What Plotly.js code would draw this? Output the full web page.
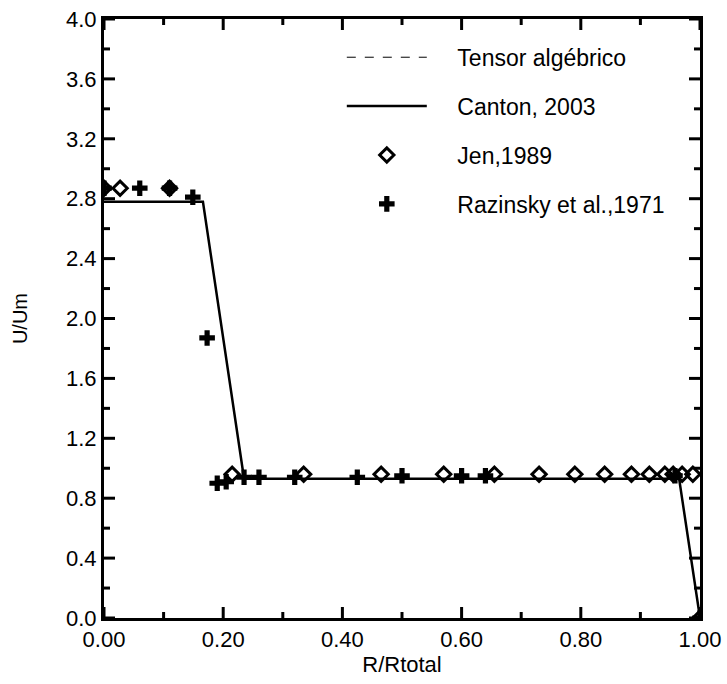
<!DOCTYPE html>
<html>
<head>
<meta charset="utf-8">
<script src="https://cdn.plot.ly/plotly-3.0.1.min.js"></script>
<style>html,body{margin:0;padding:0;background:#fff;}#chart{width:727px;height:684px;}</style>
</head>
<body>
<div id="chart"></div>
<script>
// Tensor algébrico (dashed) – coincides with Canton curve
const tensorX = [0.0, 0.166, 0.235, 0.965, 1.0];
const tensorY = [2.78, 2.78, 0.93, 0.93, 0.0];
// Canton, 2003 (solid)
const cantonX = [0.0, 0.166, 0.235, 0.965, 1.0];
const cantonY = [2.78, 2.78, 0.93, 0.93, 0.0];
// Jen, 1989 (open diamonds)
const jenX = [0.0, 0.027, 0.11, 0.215, 0.335, 0.465, 0.57, 0.655, 0.73, 0.79, 0.84, 0.885, 0.915, 0.941, 0.955, 0.97, 0.988, 1.0];
const jenY = [2.87, 2.87, 2.87, 0.96, 0.96, 0.96, 0.96, 0.96, 0.96, 0.96, 0.96, 0.96, 0.96, 0.96, 0.96, 0.96, 0.96, 0.0];
// Razinsky et al., 1971 (crosses)
const razX = [0.0, 0.06, 0.11, 0.149, 0.173, 0.19, 0.205, 0.235, 0.26, 0.32, 0.425, 0.5, 0.6, 0.64, 0.958, 1.0];
const razY = [2.87, 2.87, 2.87, 2.81, 1.87, 0.90, 0.91, 0.94, 0.94, 0.94, 0.94, 0.95, 0.95, 0.95, 0.95, 0.0];
// axes: major tick values and labels, minor tick values
const xTickVals = [0, 0.2, 0.4, 0.6, 0.8, 1.0];
const xTickText = ['0.00', '0.20', '0.40', '0.60', '0.80', '1.00'];
const xMinorVals = [0.1, 0.3, 0.5, 0.7, 0.9];
const yTickVals = [0, 0.4, 0.8, 1.2, 1.6, 2.0, 2.4, 2.8, 3.2, 3.6, 4.0];
const yTickText = ['0.0', '0.4', '0.8', '1.2', '1.6', '2.0', '2.4', '2.8', '3.2', '3.6', '4.0'];
const yMinorVals = [0.2, 0.6, 1.0, 1.4, 1.8, 2.2, 2.6, 3.0, 3.4, 3.8];
const xRange = [0, 1], yRange = [0, 4];

const FONT = 'Liberation Sans';
const PAD = '\u00a0\u00a0\u00a0\u00a0';
const W = 727, H = 684, M = {l: 104, r: 27, t: 19, b: 66};

const traces = [
  {x: tensorX, y: tensorY, mode: 'lines', name: PAD + 'Tensor algébrico',
   line: {color: 'black', width: 1, dash: 'dash'}, legendgroup: 'a'},
  {x: cantonX, y: cantonY, mode: 'lines', name: PAD + 'Canton, 2003',
   line: {color: 'black', width: 2.5}, legendgroup: 'b'},
  {x: jenX, y: jenY, mode: 'markers', name: PAD + 'Jen,1989',
   marker: {symbol: 'diamond-open', size: 11, color: 'black', line: {width: 3, color: 'black'}}, legendgroup: 'c'},
  {x: razX, y: razY, mode: 'markers', name: PAD + 'Razinsky et al.,1971',
   marker: {symbol: 'cross', size: 13, color: 'black'}, legendgroup: 'd'}
];

// inward tick marks on all four sides as data-referenced line shapes
const plotW = W - M.l - M.r, plotH = H - M.t - M.b;
const xPerPx = (xRange[1] - xRange[0]) / plotW, yPerPx = (yRange[1] - yRange[0]) / plotH;
const MAJ = 11, MIN = 6;
const shapes = [];
function xTick(v, len) {
  const d = len * yPerPx;
  shapes.push({type: 'line', xref: 'x', yref: 'y', x0: v, x1: v, y0: yRange[0], y1: yRange[0] + d,
               line: {color: 'black', width: 3}, layer: 'above'});
  shapes.push({type: 'line', xref: 'x', yref: 'y', x0: v, x1: v, y0: yRange[1], y1: yRange[1] - d,
               line: {color: 'black', width: 3}, layer: 'above'});
}
function yTick(v, len) {
  const d = len * xPerPx;
  shapes.push({type: 'line', xref: 'x', yref: 'y', x0: xRange[0], x1: xRange[0] + d, y0: v, y1: v,
               line: {color: 'black', width: 3}, layer: 'above'});
  shapes.push({type: 'line', xref: 'x', yref: 'y', x0: xRange[1], x1: xRange[1] - d, y0: v, y1: v,
               line: {color: 'black', width: 3}, layer: 'above'});
}
xTickVals.forEach(v => xTick(v, MAJ));
xMinorVals.forEach(v => xTick(v, MIN));
yTickVals.forEach(v => yTick(v, MAJ));
yMinorVals.forEach(v => yTick(v, MIN));

function axis(range, vals, text, title, titleSize, standoff) {
  return {
    range: range, tickmode: 'array', tickvals: vals, ticktext: text,
    ticks: '', tickfont: {family: FONT, size: 22, color: 'black'},
    showline: true, linecolor: 'black', linewidth: 3, mirror: true,
    showgrid: false, zeroline: false,
    title: {text: title, font: {family: FONT, size: titleSize, color: 'black'}, standoff: standoff}
  };
}

const layout = {
  width: W, height: H, margin: M,
  xaxis: axis(xRange, xTickVals, xTickText, 'R/Rtotal', 22, 2),
  yaxis: axis(yRange, yTickVals, yTickText, 'U/Um', 20, 34),
  shapes: shapes,
  legend: {
    x: 0.399, y: 0.972, xanchor: 'left', yanchor: 'top',
    bgcolor: 'rgba(0,0,0,0)',
    font: {family: FONT, size: 23, color: 'black'},
    tracegroupgap: 16, itemwidth: 80
  }
};

Plotly.newPlot('chart', traces, layout, {displayModeBar: false});
</script>
</body>
</html>
